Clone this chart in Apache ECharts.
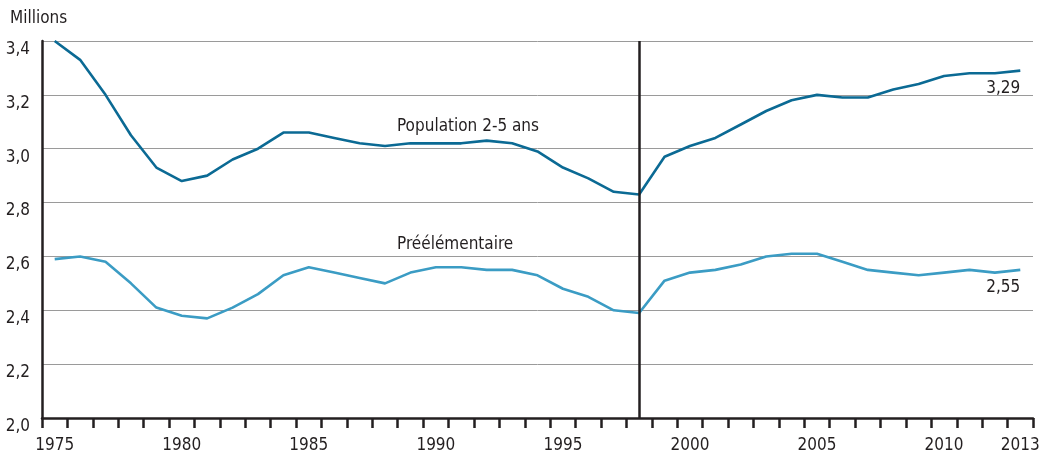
<!DOCTYPE html>
<html><head><meta charset="utf-8">
<script src="https://cdn.jsdelivr.net/npm/echarts@6/dist/echarts.min.js"></script>
<style>html,body{margin:0;padding:0;background:#fff}#c{width:1044px;height:454px}</style>
</head><body><div id="c"></div>
<script>
const years = [];
for (let y = 1975; y <= 2013; y++) years.push(String(y));
const population25 = [3.40,3.33,3.20,3.05,2.93,2.88,2.90,2.96,3.00,3.06,3.06,3.04,3.02,3.01,3.02,3.02,3.02,3.03,3.02,2.99,2.93,2.89,2.84,2.83,2.97,3.01,3.04,3.09,3.14,3.18,3.20,3.19,3.19,3.22,3.24,3.27,3.28,3.28,3.29];
const preelementaire = [2.59,2.60,2.58,2.50,2.41,2.38,2.37,2.41,2.46,2.53,2.56,2.54,2.52,2.50,2.54,2.56,2.56,2.55,2.55,2.53,2.48,2.45,2.40,2.39,2.51,2.54,2.55,2.57,2.60,2.61,2.61,2.58,2.55,2.54,2.53,2.54,2.55,2.54,2.55];
const yTicks = [2.0,2.2,2.4,2.6,2.8,3.0,3.2,3.4];
const breakYear = '1998';
const FONT = '"Liberation Sans Narrow","DejaVu Sans Condensed",sans-serif';
const TXT = '#231f20';

const chart = echarts.init(document.getElementById('c'));
function lastLabel(arr){
  return arr.map((v,i)=> i===arr.length-1 ? {value:v,label:{show:true,position:'bottom',align:'right',distance:9,
    formatter:(p)=>p.value.toFixed(2).replace('.',','),fontFamily:FONT,fontSize:17,color:TXT}} : v);
}
chart.setOption({
  animation:false,
  grid:{left:42,right:11,top:41,bottom:35,containLabel:false},
  xAxis:{type:'category',data:years,boundaryGap:true,
    axisLine:{lineStyle:{color:'#231f20',width:2.5}},
    axisTick:{show:true,interval:0,length:10,lineStyle:{color:'#231f20',width:2.5}},
    axisLabel:{interval:(i,v)=> (Number(v)-1975)%5===0 || v==='2013',margin:19,fontFamily:FONT,fontSize:17,color:TXT},
    splitLine:{show:false}},
  yAxis:{type:'value',min:yTicks[0],max:yTicks[yTicks.length-1],interval:0.2,
    name:'Millions',nameLocation:'end',nameGap:14,
    nameTextStyle:{align:'left',padding:[0,0,0,-32],fontFamily:FONT,fontSize:17,color:TXT},
    axisLine:{show:true,lineStyle:{color:'#231f20',width:2.5}},
    axisTick:{show:false},
    axisLabel:{margin:12,verticalAlign:'top',fontFamily:FONT,fontSize:17,color:TXT,
      formatter:(v)=>v.toFixed(1).replace('.',',')},
    splitLine:{show:true,lineStyle:{color:'#9a9a9a',width:1}}},
  series:[
    {name:'Population 2-5 ans',type:'line',data:lastLabel(population25),symbol:'circle',symbolSize:0,showSymbol:true,
     lineStyle:{color:'#0b6a94',width:2.6},itemStyle:{color:'#0b6a94'},
     markLine:{silent:true,symbol:'none',label:{show:false},lineStyle:{color:'#231f20',width:2.5,type:'solid'},
       data:[{xAxis:breakYear}]}},
    {name:'Préélémentaire',type:'line',data:lastLabel(preelementaire),symbol:'circle',symbolSize:0,showSymbol:true,
     lineStyle:{color:'#3b9cc4',width:2.6},itemStyle:{color:'#3b9cc4'}}
  ],
  graphic:[
    {type:'text',left:397,top:118,style:{text:'Population 2-5 ans',font:'17px '+FONT,fill:TXT}},
    {type:'text',left:397,top:236,style:{text:'Préélémentaire',font:'17px '+FONT,fill:TXT}}
  ]
});
</script></body></html>
